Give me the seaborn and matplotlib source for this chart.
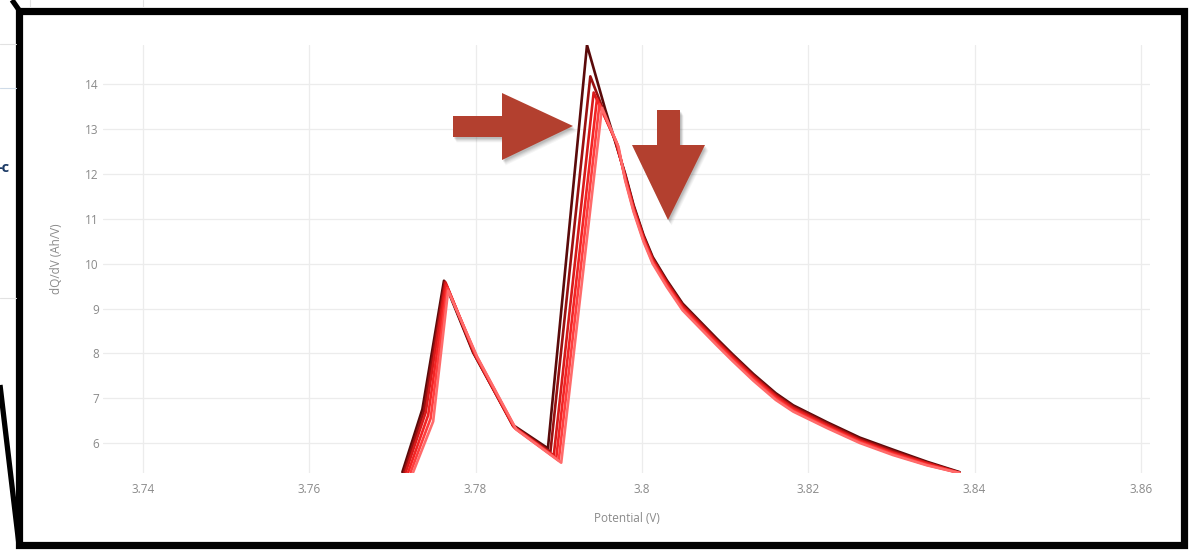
import matplotlib
matplotlib.use("Agg")
import matplotlib.pyplot as plt
import pandas as pd
import seaborn as sns
from matplotlib.patches import Polygon, Rectangle
from matplotlib.lines import Line2D
from matplotlib.transforms import Affine2D

# ---- data: dQ/dV vs potential for successive charge cycles ----
cycles = ["Cycle 1", "Cycle 2", "Cycle 3", "Cycle 4", "Cycle 5", "Cycle 6"]
cycle_colors = ["#5a0a0a", "#9a1010", "#d81a1a", "#f22424", "#ff3d3d", "#ff6b6b"]

head_potential_c1 = [3.7712, 3.7736, 3.7762, 3.7797, 3.7845, 3.7887, 3.7934, 3.7956, 3.7968]
head_dqdv_c1 = [5.35, 6.75, 9.62, 8.02, 6.40, 5.88, 14.88, 13.44, 12.72]
head_potential_c2 = [3.7714, 3.7738, 3.7763, 3.7798, 3.7845, 3.7890, 3.7938, 3.7968]
head_dqdv_c2 = [5.35, 6.72, 9.60, 8.00, 6.38, 5.80, 14.18, 12.74]
head_potential_c3 = [3.7716, 3.7740, 3.7764, 3.7799, 3.7846, 3.7894, 3.7942, 3.7969]
head_dqdv_c3 = [5.35, 6.68, 9.58, 7.98, 6.36, 5.72, 13.82, 12.72]
head_potential_c4 = [3.7719, 3.7743, 3.7765, 3.7800, 3.7847, 3.7897, 3.7946, 3.7970]
head_dqdv_c4 = [5.35, 6.62, 9.52, 7.96, 6.34, 5.66, 13.68, 12.68]
head_potential_c5 = [3.7722, 3.7746, 3.7766, 3.7801, 3.7848, 3.7900, 3.7949, 3.7971]
head_dqdv_c5 = [5.35, 6.55, 9.46, 7.94, 6.32, 5.61, 13.56, 12.64]
head_potential_c6 = [3.7725, 3.7749, 3.7767, 3.7802, 3.7849, 3.7903, 3.7952, 3.7972]
head_dqdv_c6 = [5.35, 6.48, 9.40, 7.92, 6.30, 5.56, 13.48, 12.60]

tail_potential = [3.7980, 3.7990, 3.8002, 3.8013, 3.8030, 3.8049, 3.8070, 3.8090, 3.8109,
                  3.8134, 3.8161, 3.8182, 3.8223, 3.8262, 3.8302, 3.8343, 3.8382]
tail_dqdv_c1 = [12.00, 11.31, 10.64, 10.15, 9.63, 9.11, 8.71, 8.33, 7.98, 7.54, 7.11, 6.84, 6.46, 6.12, 5.85, 5.58, 5.35]
tail_dqdv_c2 = [11.97, 11.28, 10.61, 10.12, 9.60, 9.08, 8.68, 8.30, 7.95, 7.51, 7.08, 6.81, 6.43, 6.09, 5.82, 5.56, 5.34]
tail_dqdv_c3 = [11.94, 11.25, 10.58, 10.09, 9.57, 9.05, 8.65, 8.27, 7.92, 7.48, 7.05, 6.78, 6.40, 6.06, 5.79, 5.55, 5.33]
tail_dqdv_c4 = [11.91, 11.22, 10.55, 10.06, 9.54, 9.02, 8.62, 8.24, 7.89, 7.45, 7.02, 6.75, 6.37, 6.04, 5.77, 5.53, 5.33]
tail_dqdv_c5 = [11.88, 11.19, 10.52, 10.03, 9.51, 8.99, 8.59, 8.21, 7.86, 7.42, 6.99, 6.72, 6.35, 6.02, 5.75, 5.51, 5.33]
tail_dqdv_c6 = [11.85, 11.16, 10.49, 10.00, 9.48, 8.96, 8.56, 8.18, 7.83, 7.39, 6.96, 6.70, 6.33, 6.00, 5.73, 5.50, 5.33]

x_ticks = [3.74, 3.76, 3.78, 3.80, 3.82, 3.84, 3.86]
x_tick_labels = ["3.74", "3.76", "3.78", "3.8", "3.82", "3.84", "3.86"]
y_ticks = [6, 7, 8, 9, 10, 11, 12, 13, 14]
x_label = "Potential (V)"
y_label = "dQ/dV (Ah/V)"

heads_v = [head_potential_c1, head_potential_c2, head_potential_c3,
           head_potential_c4, head_potential_c5, head_potential_c6]
heads_q = [head_dqdv_c1, head_dqdv_c2, head_dqdv_c3,
           head_dqdv_c4, head_dqdv_c5, head_dqdv_c6]
tails_q = [tail_dqdv_c1, tail_dqdv_c2, tail_dqdv_c3,
           tail_dqdv_c4, tail_dqdv_c5, tail_dqdv_c6]

rows = []
for name, hv, hq, tq in zip(cycles, heads_v, heads_q, tails_q):
    for v, q in zip(hv + tail_potential, hq + tq):
        rows.append((name, v, q))
df = pd.DataFrame(rows, columns=["cycle", x_label, y_label])

# ---- figure ----
sns.set_style("white")
plt.rcParams["font.family"] = ["Open Sans", "DejaVu Sans"]

W, H = 1192, 550
fig = plt.figure(figsize=(W / 100, H / 100), dpi=100)
fig.patch.set_facecolor("white")
PX = Affine2D().scale(1 / W, -1 / H).translate(0, 1) + fig.transFigure

# page fragment visible to the left of the frame
for y in (44, 88, 298):
    col = "#cfdbe8" if y == 88 else "#e2e2e2"
    fig.add_artist(Line2D([0, 16], [y, y], transform=PX, color=col, lw=0.8))
for x in (30, 143):
    fig.add_artist(Line2D([x, x], [0, 7], transform=PX, color="#e2e2e2", lw=0.8))
fig.text(-2 / W, 1 - 168 / H, "-c", color="#1d3b66", fontsize=10.5,
         fontweight="bold", va="center", ha="left")

ax = fig.add_axes([103 / W, 1 - 473 / H, (1150 - 103) / W, (473 - 45) / H])
sns.lineplot(data=df, x=x_label, y=y_label, hue="cycle", hue_order=cycles,
             palette=cycle_colors, sort=False, estimator=None, units="cycle",
             legend=False, lw=1.9, ax=ax)

ax.set_xlim(3.7352, 3.8611)
ax.set_ylim(df[y_label].min(), df[y_label].max())
ax.set_xticks(x_ticks)
ax.set_xticklabels(x_tick_labels)
ax.set_yticks(y_ticks)
ax.grid(True, color="#ececec", lw=0.9)
ax.set_axisbelow(True)
for s in ax.spines.values():
    s.set_visible(False)
ax.tick_params(axis="both", length=0, labelcolor="#8a8a8a", labelsize=8.5)
ax.tick_params(axis="x", pad=7)
ax.tick_params(axis="y", pad=3)
ax.set_xlabel(x_label, color="#8a8a8a", fontsize=8.5, labelpad=12)
ax.set_ylabel(y_label, color="#8a8a8a", fontsize=8.5, labelpad=16)

# annotation arrows with soft drop shadow
arrow_color = "#b3402f"
right_arrow = [(453, 116), (502, 116), (502, 93), (573, 126), (502, 160), (502, 137), (453, 137)]
down_arrow = [(657, 110), (680, 110), (680, 145), (705, 145), (668, 220), (632, 145), (657, 145)]
for shape in (right_arrow, down_arrow):
    for k, a in ((6, 0.05), (5, 0.06), (4, 0.08), (3, 0.1), (2, 0.12)):
        shadow = [(x + k * 0.6, y + k * 0.9) for x, y in shape]
        fig.add_artist(Polygon(shadow, closed=True, transform=PX,
                               facecolor="#404040", edgecolor="none", alpha=a))
    fig.add_artist(Polygon(shape, closed=True, transform=PX,
                           facecolor=arrow_color, edgecolor="none"))

# callout frame and connector strokes
fig.add_artist(Line2D([0, 19], [385, 545], transform=PX, color="black", lw=3.8,
                      solid_capstyle="butt"))
fig.add_artist(Line2D([12, 19], [0, 10], transform=PX, color="black", lw=3.8,
                      solid_capstyle="butt"))
fig.add_artist(Rectangle((18.5, 10.5), 1184 - 18.5, 545 - 10.5, transform=PX,
                         fill=False, edgecolor="black", lw=5.2, joinstyle="miter"))

fig.savefig("out.png", dpi=100, facecolor="white")
